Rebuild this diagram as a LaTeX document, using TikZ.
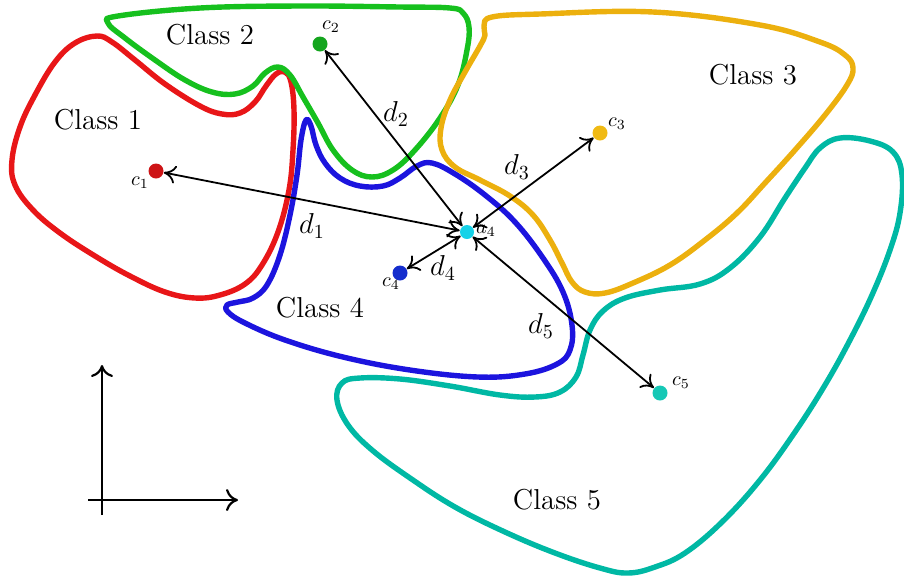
\documentclass[tikz,border=0pt]{standalone}
\usetikzlibrary{arrows.meta}
\definecolor{cred}{RGB}{232,22,24}
\definecolor{cgreen}{RGB}{22,192,30}
\definecolor{cyellow}{RGB}{236,176,14}
\definecolor{cblue}{RGB}{28,20,222}
\definecolor{cteal}{RGB}{0,184,164}
\definecolor{dred}{RGB}{205,20,22}
\definecolor{dgreen}{RGB}{20,165,30}
\definecolor{dyellow}{RGB}{240,186,20}
\definecolor{dblue}{RGB}{20,45,205}
\definecolor{dteal}{RGB}{22,200,182}
\definecolor{dcyan}{RGB}{22,210,232}
\tikzset{
  region/.style={line width=2.7pt, line join=round},
  dot/.style={circle, inner sep=0pt, minimum size=7.5pt},
  dist/.style={line width=0.9pt, {To[length=6pt,width=9pt]}-{To[length=6pt,width=9pt]}},
  axis/.style={line width=1.1pt, -{To[length=6pt,width=11pt]}},
  classlbl/.style={font=\Large},
  dlbl/.style={font=\Large},
}
\begin{document}
\begin{tikzpicture}[x=0.5pt,y=-0.5pt]
\useasboundingbox (0,0) rectangle (904,575);
% regions
\draw[region, cred] plot[smooth cycle, tension=0.65] coordinates {(97,36) (112,42) (135,60) (165,84) (200,106) (222,114) (240,113) (255,102) (266,86) (276,74) (285,72) (291,82) (294,110) (293,150) (289,190) (278,232) (262,265) (245,284) (220,295) (195,298) (165,292) (130,276) (95,256) (60,233) (33,210) (15,185) (12,160) (20,127) (35,95) (55,62) (75,43)};
\draw[region, cgreen] plot[smooth cycle, tension=0.65] coordinates {(108,23) (118,16) (200,8) (300,6) (400,7) (450,8) (463,13) (469,27) (467,50) (458,85) (440,118) (415,150) (393,170) (372,177) (352,170) (333,150) (318,123) (303,97) (290,75) (278,67) (265,73) (253,86) (235,94) (212,92) (185,80) (155,60) (125,38)};
\draw[region, cyellow] plot[smooth cycle, tension=0.65] coordinates {(484,26) (492,17) (540,14) (653,12) (760,25) (820,42) (845,55) (853,68) (847,85) (825,115) (795,150) (765,183) (737,213) (705,240) (670,265) (633,283) (605,293) (585,292) (572,282) (562,263) (550,240) (533,215) (510,196) (480,180) (455,167) (442,150) (441,128) (450,100) (465,72) (480,46) (485,35)};
\draw[region, cblue] plot[smooth cycle, tension=0.65] coordinates {(306,120) (311,126) (316,145) (325,163) (340,178) (360,186) (383,186) (400,178) (417,166) (432,163) (455,174) (485,195) (515,222) (543,258) (563,292) (572,325) (570,350) (557,364) (525,374) (478,377) (410,370) (343,357) (285,340) (245,323) (228,312) (227,305) (238,302) (253,298) (267,285) (280,255) (290,215) (297,175) (301,140)};
\draw[region, cteal] plot[smooth cycle, tension=0.65] coordinates {(840,138) (870,141) (893,152) (902,175) (900,213) (890,250) (872,295) (850,340) (825,385) (795,432) (760,480) (722,522) (685,553) (655,567) (628,573) (600,568) (555,553) (505,532) (455,507) (410,478) (372,450) (348,425) (337,400) (342,383) (360,378) (400,379) (450,386) (500,395) (535,397) (560,392) (576,377) (583,355) (590,330) (603,311) (625,298) (660,290) (700,284) (730,268) (760,237) (785,198) (805,168) (820,148)};
% class labels
\node[classlbl] (l1) at (98,120) {Class 1};
\node[classlbl] (l2) at (210,35) {Class 2};
\node[classlbl] (l3) at (753,75) {Class 3};
\node[classlbl] (l4) at (320,308) {Class 4};
\node[classlbl] (l5) at (557,500) {Class 5};
% centres
\node[dot, fill=dred] (c1) at (156,171) {};
\node[dot, fill=dgreen] (c2) at (320,44) {};
\node[dot, fill=dyellow] (c3) at (600,133) {};
\node[dot, fill=dblue] (c4) at (400,273) {};
\node[dot, fill=dteal] (c5) at (660,393) {};
\node[dot, fill=dcyan, minimum size=7pt] (a4) at (467,232) {};
\node (tc1) at (140,183) {$c_1$};
\node (tc2) at (331,27) {$c_2$};
\node (tc3) at (617,124) {$c_3$};
\node (tc4) at (391,284) {$c_4$};
\node (tc5) at (681,383) {$c_5$};
\node (ta4) at (486,231) {$a_4$};
% distances
\draw[dist] (a4) -- (c1);
\draw[dist] (a4) -- (c2);
\draw[dist] (a4) -- (c3);
\draw[dist] (a4) -- (c4);
\draw[dist] (a4) -- (c5);
\node[dlbl] (d1) at (312,226) {$d_1$};
\node[dlbl] (d2) at (396,114) {$d_2$};
\node[dlbl] (d3) at (517,167) {$d_3$};
\node[dlbl] (d4) at (443,268) {$d_4$};
\node[dlbl] (d5) at (541,326) {$d_5$};
% axes
\coordinate (yb) at (102,515);
\coordinate (yt) at (102,365);
\coordinate (xl) at (88,500);
\coordinate (xr) at (238,500);
\draw[axis] (yb) -- (yt);
\draw[axis] (xl) -- (xr);
\end{tikzpicture}
\end{document}
